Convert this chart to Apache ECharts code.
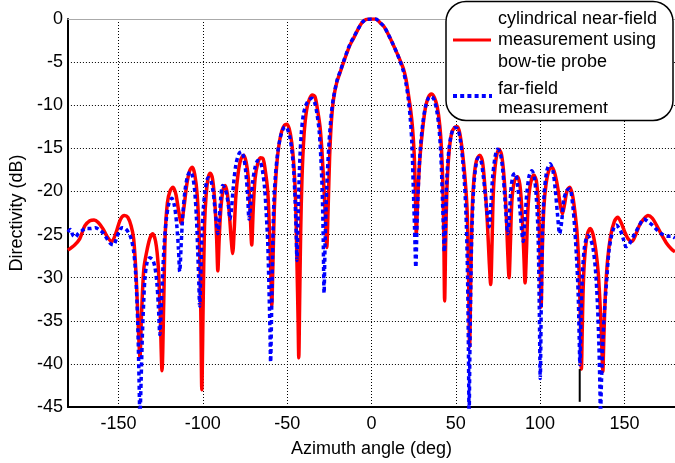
<!DOCTYPE html>
<html>
<head>
<meta charset="utf-8">
<script src="https://cdn.jsdelivr.net/npm/echarts@6/dist/echarts.min.js"></script>
<style>
html,body{margin:0;padding:0;background:#fff;}
#chart{width:675px;height:463px;}
</style>
</head>
<body>
<div id="chart"></div>
<script>
// ---- data ----
const xTicks = [-150, -100, -50, 0, 50, 100, 150];
const yTicks = [-45, -40, -35, -30, -25, -20, -15, -10, -5, 0];

const seriesNames = [
  'cylindrical near-field\nmeasurement using\nbow-tie probe',
  'far-field\nmeasurement'
];
const legendLines = [
  ['cylindrical near-field', 'measurement using', 'bow-tie probe'],
  ['far-field', 'measurement']
];

const nearFieldAngles = [
  -180,-176,-173,-170,-167,-164.5,-162,-159,-156.5,-154,-151.5,-149,-146.5,-144.5,-142.5,-141,-139.5,-138.2,-137.3,
  -136.3,-135,-133.5,-131.5,-129.8,-128,-126.5,-125.3,-124.2,-123.2,-122.3,-121,-119.5,-117.7,-116,-114.3,-112.8,
  -111.3,-109.5,-107.8,-106.3,-104.8,-103.3,-102,-101.2,-100.6,-99.8,-99,-98,-96.8,-95.6,-94.2,-92.8,-91.8,-91.1,
  -90.3,-89.3,-88,-86.8,-85.5,-84.3,-83.2,-82.3,-81.4,-80.4,-79,-77.5,-75.8,-74.3,-73,-72,-71,-70.1,-69,-67.5,
  -65.8,-64.3,-63,-61.5,-60.4,-59.6,-59.1,-58.5,-57.6,-56.5,-55,-53.2,-51.5,-50.2,-48.8,-47.3,-46,-45,-44.2,-43.5,
  -43.1,-42.6,-42,-41.2,-40,-38.5,-36.8,-35,-33.5,-32,-30.5,-29.3,-28.2,-27.2,-26.5,-25.7,-24.8,-23.8,-22.5,-20.5,
  -18.6,-16.5,-14.7,-12.7,-10.5,-8,-5.5,-3,0,2.5,5,7.5,10,12.5,15,17,19,20.5,21.8,23.2,24.3,25.3,25.9,26.2,26.6,
  27.2,28,29,30.5,32,33.7,35.5,37.3,39,40.5,41.5,42.3,42.9,43.4,44,44.8,46,47.5,49.2,51,52.5,54,55.5,56.8,57.6,
  58.2,58.9,59.7,60.8,62.3,64.2,65.8,67.3,68.7,69.8,70.7,71.5,72.3,73.7,75.5,77,78.4,79.8,80.8,81.6,82.4,83.3,
  84.8,86.5,88,89.3,90.3,91.1,91.9,92.8,94.2,96.3,97.8,99,99.9,100.6,101.3,102.2,103.5,105.3,107,108.7,110.5,112,
  113.2,114.5,116,117.6,119.2,120.6,122,123.2,124,124.5,125,125.6,126.5,128,129.7,131.4,133,134.5,135.8,136.7,
  137.2,137.8,138.7,140,141.8,144,146,148,150,152.2,154.5,156.5,159,161.5,164,166.5,169,172,175,178,180
];
const nearFieldValues = [
  -26.8,-26.2,-25.5,-24.0,-23.4,-23.3,-23.6,-24.4,-25.3,-25.8,-24.8,-23.3,-22.8,-23.0,-24.0,-25.5,-30,-36,-39.2,
  -34,-29,-27.2,-25.5,-24.9,-25.8,-28.5,-34,-40.8,-33,-25,-21.3,-20,-19.5,-20.3,-22.3,-23.7,
  -22,-19.2,-17.6,-17.2,-18.0,-20.5,-26,-34,-43,-33,-24,-20.3,-18.4,-17.9,-18.6,-21.5,-25.5,-29.2,
  -25.5,-22,-19.8,-19.3,-20.2,-22.5,-25.5,-27.2,-24.5,-20.5,-17.8,-16.3,-15.8,-16.6,-18.5,-22,-26.2,-22,-18.5,-16.8,
  -16.1,-16.2,-17.5,-20,-25,-30,-33.2,-29,-22,-17.8,-14.8,-13,-12.3,-12.2,-12.7,-14.3,-17,-21,-28,-35,
  -39.3,-33,-25,-18.5,-13.5,-10.6,-9.3,-8.8,-9.0,-10.5,-12.5,-15.5,-19.5,-23.5,-26.5,-22,-16,-12,-9.3,-7.3,
  -6.2,-5,-4.0,-3.0,-2.2,-1.2,-0.4,-0.05,0,0,-0.4,-0.9,-1.8,-2.8,-3.9,-4.8,-5.8,-7.0,-8.6,-10.5,-12.5,-15.5,-19,-22,-25,
  -22,-18.5,-15.5,-12.5,-10.3,-9.1,-8.7,-9.1,-10.2,-12.3,-15,-19,-25,-32.7,-26,-19.5,-15.5,-13.3,-12.6,-12.5,-13.4,-15.5,-18.5,-22.5,-30,
  -38,-30,-22.5,-18.5,-16.4,-15.8,-16.5,-19.5,-23.5,-28,-30.8,-26,-20,-16.5,-15.1,-15.6,-17.8,-22,-27,-30,-26,-21,
  -18.8,-18.3,-19.2,-22.5,-27,-30.6,-27,-22,-19.2,-18.1,-18.8,-21.5,-27,-33.4,-27,-22,-19.2,-17.5,-17.2,-17.9,-19.6,-21.6,
  -22.6,-21.5,-19.9,-19.5,-20.4,-22.3,-25,-29.5,-36,-40.6,-36,-31,-27.5,-25,-24.3,-25,-26.8,-29.5,-34,-38.5,
  -40.9,-37,-32,-28,-25.2,-23.5,-23,-23.6,-24.6,-25.5,-25.8,-25.1,-23.9,-23.2,-22.8,-23.1,-23.9,-25,-26,-26.7,-27.0
];

const farFieldAngles = [
  -180,-178.5,-177,-175.5,-174,-172,-169.5,-166.5,-163.7,-161,-158.8,-156.5,-154.5,-152.9,-151,-149.3,-148,-146,
  -144,-142.3,-141,-140,-139,-138.3,-137.8,-137.3,-136.6,-135.9,-135.1,-134.3,-133,-131.4,-129.8,-128.5,-127.3,
  -126.3,-125.5,-124.6,-123.7,-122.7,-121.5,-120,-118.3,-116.8,-115.5,-114.5,-113.7,-112.8,-111.8,-110.5,-109,
  -107.5,-106,-104.8,-103.8,-103,-102.3,-101.9,-101.3,-100.5,-99.7,-98.5,-96.8,-95.3,-94,-92.9,-91.8,-91.1,-90.3,
  -89.3,-88.2,-86.9,-85.7,-84.6,-83.9,-83,-81.8,-80.3,-78.5,-77.1,-75.8,-74.5,-73.4,-72.6,-71.6,-70.5,-69,-67.3,
  -66,-64.7,-63.4,-62.4,-61.5,-60.8,-60.2,-59.8,-59.3,-58.7,-58,-57,-55.6,-54,-52.5,-51.3,-50,-48.5,-47,-46,-45.2,
  -44.6,-44.2,-43.6,-42.8,-41.7,-40.3,-38.7,-37,-35.4,-33.8,-32.3,-31,-30,-29.2,-28.6,-28.1,-27.5,-26.5,-25.2,
  -23.8,-22.5,-20.5,-18.6,-16.5,-14.7,-12.7,-10.5,-8,-5.5,-3,0,2.5,5,7.5,10,12.5,15,17,19,20.5,21.8,23,24,24.8,
  25.6,26.3,27,28,29,30.5,32,33.7,35.3,37,38.6,40,41.2,42.2,42.8,43.2,43.8,44.7,46,47.5,49.2,51,52.5,54,55.3,56.3,
  57,57.5,57.9,58.4,59,59.5,60.5,61.8,63.3,64.8,66.3,67.8,69,69.8,70.7,71.8,73.3,74.8,76.3,77.7,79,80.1,80.8,81.6,
  82.7,84,85.3,86.7,88,89.2,90,90.8,92,93.5,95.1,96.6,97.8,98.8,99.5,100.1,100.7,101.4,102.4,104,105.9,107.6,109,
  110.3,111.6,112.8,114,115.8,117.6,119.3,120.6,121.7,122.6,123.2,123.6,124.2,125,126.3,128.3,130,131.4,132.8,134,
  134.9,135.5,135.8,136.4,137.3,138.3,139.4,140.8,142.2,143.8,145.2,146.6,148,149.5,151,152.6,154.5,156.5,158.5,
  161.5,164,166.5,169,172,175,178,180
];
const farFieldValues = [
  -24.7,-24.4,-25.1,-25.3,-24.9,-24.6,-24.3,-24.3,-24.2,-24.5,-24.9,-25.6,-26.1,-26.2,-25.3,-24.5,-24.2,-24.3,
  -24.8,-25.6,-27,-29,-33,-37.5,-42,-46,-42,-37,-33,-30,-28.2,-27.7,-27.9,-28.7,-30.5,
  -33.5,-36.6,-33,-29,-25.5,-23,-21.3,-20.8,-21.7,-23.8,-26.5,-29.3,-26,-22.5,-19.8,-18.2,
  -17.7,-18.3,-20,-23,-27,-31,-33.3,-30,-25,-22,-19.7,-18.4,-18.7,-19.9,-21.8,-23.8,-24.9,-23.5,
  -20.6,-19.3,-19.6,-20.5,-22,-23.2,-22,-19.2,-16.8,-15.6,-15.4,-16,-17.8,-20.5,-23.2,-21.5,-19,-17.2,-16.4,
  -16.5,-17.5,-19.5,-22.5,-26,-31,-36,-39.8,-35,-28,-22,-18.3,-15.5,-13.7,-12.8,-12.5,-12.7,-13.6,-15.6,-18,-21.5,
  -25,-28,-24,-18,-13.5,-11,-9.9,-9.4,-9.2,-9.6,-11,-13,-16.2,-20,-25.5,-31.8,-26,-19.5,-14.5,
  -11,-9.1,-7.2,-6.1,-4.9,-3.9,-2.9,-2.1,-1.2,-0.4,-0.05,0,0,-0.4,-0.9,-1.8,-2.8,-3.9,-4.9,-6.1,-7.5,-9.2,-11.5,-14.5,-19.5,
  -24.5,-28.8,-24,-18.5,-15,-12,-10.2,-9.2,-9.0,-9.3,-10.5,-12.5,-16,-21.5,-25,-27,-24.5,-18.5,-15,-13.3,-12.6,-12.7,-13.8,-16.2,-19.5,-24,
  -30,-38,-46,-38,-30,-25,-20,-17.2,-16.1,-16.3,-18.2,-21,-23.2,-24.1,-22,-18.5,-16,-15.1,-15.5,-17.2,-20.5,-23.5,-24.9,-23.5,
  -19.8,-18.1,-17.9,-19.3,-22,-24.8,-25.8,-24,-20.5,-18.2,-17.6,-18.4,-20.8,-25,-33,-41.7,-33,-25,-20.3,-17.6,-16.8,-17.6,-19.8,
  -22.6,-24.9,-23.5,-21,-19.9,-19.7,-21.5,-24.5,-28,-32,-37,-40.1,-35,-30,-26.5,-25.1,-25.6,-26.6,-29,-33,
  -38,-43,-46,-42,-37,-33.5,-30.5,-27,-25.3,-24.2,-23.9,-24.2,-24.7,-25.6,-26.4,-26.2,-25.5,-24.8,-24.1,
  -23.2,-23.5,-23.9,-24.4,-24.9,-25.2,-25.2,-25.4
];

// short black vertical stroke near 123.5 deg
const markerAngles = [123.5, 123.5];
const markerValues = [-40.6, -44.4];

// ---- build ----
const zip = (xs, ys) => xs.map((x, i) => [x, ys[i]]);
const FONT = 'Liberation Sans, Arial, Helvetica, sans-serif';

const chart = echarts.init(document.getElementById('chart'), null, {renderer: 'canvas'});

const legendX = 498;
const legendGraphics = [
  {type: 'rect', shape: {x: 446, y: 1.5, width: 227, height: 119, r: 20},
   style: {fill: '#fff', stroke: null}, z: 100},
  {type: 'line', shape: {x1: 453, y1: 40, x2: 491, y2: 40},
   style: {stroke: '#ff0000', lineWidth: 3}, z: 101},
  {type: 'line', shape: {x1: 453, y1: 96, x2: 492, y2: 96},
   style: {stroke: '#0000ff', lineWidth: 4, lineDash: [4, 3.2]}, z: 101}
];
const legendCenters = [[19.5, 40.5, 62], [89, 109.5]];
legendLines.forEach((lines, si) => {
  lines.forEach((t, li) => {
    legendGraphics.push({type: 'text', x: legendX, y: legendCenters[si][li], z: 101,
      style: {text: t, font: '18px ' + FONT, fill: '#000', verticalAlign: 'middle', align: 'left'}});
  });
});
legendGraphics.push({type: 'rect', shape: {x: 460, y: 113, width: 200, height: 6.5},
  style: {fill: '#fff'}, z: 102});
legendGraphics.push({type: 'rect', shape: {x: 446, y: 1.5, width: 227, height: 119, r: 20},
  style: {fill: null, stroke: '#000', lineWidth: 1.5}, z: 103});

const option = {
  animation: false,
  backgroundColor: '#fff',
  grid: {left: 61, right: -2, top: 19, bottom: 55, containLabel: false},
  xAxis: [{
    type: 'value', min: -180, max: 180, position: 'bottom',
    name: 'Azimuth angle (deg)', nameLocation: 'middle', nameGap: 33,
    nameTextStyle: {fontSize: 18, color: '#000', fontFamily: FONT},
    axisLine: {show: true, onZero: false, lineStyle: {color: '#000', width: 2}},
    axisTick: {show: false, customValues: xTicks},
    axisLabel: {customValues: xTicks, fontSize: 18, color: '#000', fontFamily: FONT, margin: 8},
    splitLine: {show: true, lineStyle: {color: '#000', type: [1, 2], width: 1}}
  }, {
    type: 'value', min: -180, max: 180, position: 'top',
    axisLine: {show: true, onZero: false, lineStyle: {color: '#aaa', width: 1}},
    axisTick: {show: false}, axisLabel: {show: false}, splitLine: {show: false}
  }],
  yAxis: {
    type: 'value', min: -45, max: 0, interval: 5,
    name: 'Directivity (dB)', nameLocation: 'middle', nameGap: 33,
    nameTextStyle: {fontSize: 18, color: '#000', fontFamily: FONT},
    axisLine: {show: true, onZero: false, lineStyle: {color: '#000', width: 2}},
    axisTick: {show: false},
    axisLabel: {fontSize: 18, color: '#000', fontFamily: FONT, margin: 5,
      formatter: v => yTicks.includes(v) ? String(v) : ''},
    splitLine: {show: true, lineStyle: {color: '#000', type: [1, 2], width: 1}}
  },
  series: [{
    name: seriesNames[0], type: 'line', data: zip(nearFieldAngles, nearFieldValues),
    showSymbol: false, smooth: 0.3, clip: true,
    lineStyle: {color: '#ff0000', width: 3.5}, z: 3
  }, {
    name: seriesNames[1], type: 'line', data: zip(farFieldAngles, farFieldValues),
    showSymbol: false, smooth: 0.3, clip: true,
    lineStyle: {color: '#0000ff', width: 3.5, type: [4, 3.2], cap: 'butt'}, z: 4
  }, {
    name: 'marker', type: 'line', data: zip(markerAngles, markerValues),
    showSymbol: false, lineStyle: {color: '#000', width: 2}, z: 5
  }],
  graphic: legendGraphics
};
chart.setOption(option);
</script>
</body>
</html>
